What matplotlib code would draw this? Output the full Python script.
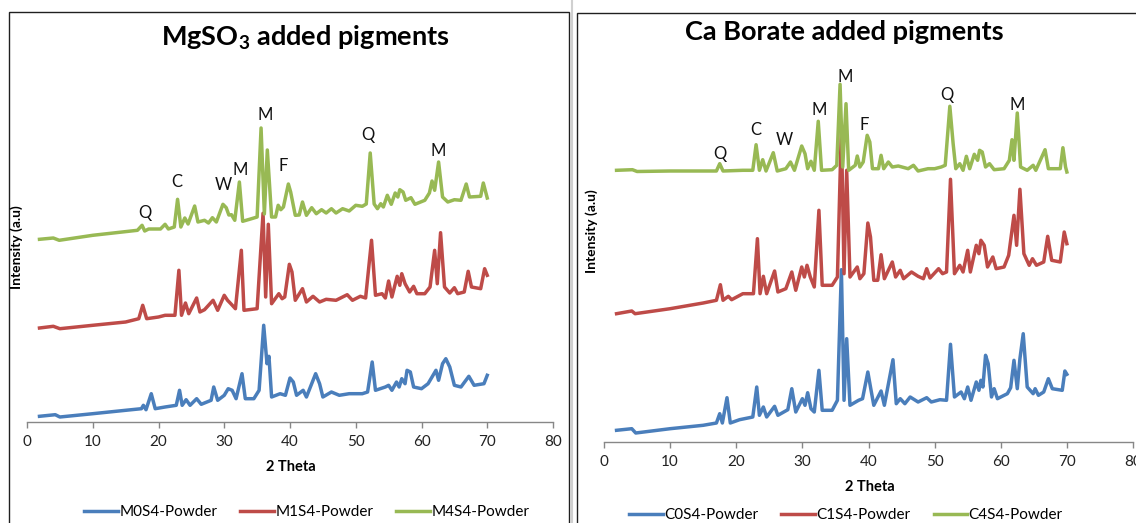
import matplotlib
matplotlib.use("Agg")
import matplotlib.pyplot as plt
from matplotlib.patches import Rectangle
from matplotlib.lines import Line2D

plt.rcParams['font.family'] = ['Lato', 'DejaVu Sans']
plt.rcParams['mathtext.fontset'] = 'custom'
plt.rcParams['mathtext.rm'] = 'Lato'
plt.rcParams['mathtext.bf'] = 'Lato:bold'

# ---- data (2 theta, intensity in a.u.) ----
m0_x = [1.9, 4.3, 5, 10, 15, 17.4, 17.7, 18.1, 18.9, 19.5, 21, 22.7, 23.2, 23.6, 24.2, 24.8, 25.8, 26.5, 28, 28.4,
        29, 30, 30.6, 31.2, 31.8, 32.7, 33.2, 34.5, 35.3, 36, 36.5, 36.8, 37.2, 38.5, 39.3, 40, 40.5, 41, 42, 42.5,
        43.9, 44.5, 45, 46.3, 47.5, 49, 51, 51.8, 52.5, 53, 54.5, 55, 55.5, 56.2, 56.6, 57, 57.5, 57.8, 58.3, 58.8,
        60, 61, 62.2, 62.6, 63.2, 63.7, 64.3, 65, 66, 67.2, 68, 69.5, 70]
m0_y = [5.7, 7.3, 5, 8.3, 11.7, 13.3, 16.7, 12.3, 28.3, 13.3, 15, 16.7, 31.7, 16.7, 22.3, 16.7, 23.3, 17.7, 21.7, 35,
        21.7, 26.7, 33.3, 31.7, 23.3, 48.3, 23.3, 23.3, 31.7, 96.7, 58.3, 65.7, 25, 28.3, 26.7, 44, 40, 26.7, 31.7, 25,
        48.3, 38.3, 25, 30, 26.7, 28.3, 28.3, 30, 60, 31.7, 35, 36.7, 31.7, 40, 35, 43.3, 38.3, 51.7, 50, 35,
        33.3, 38.3, 51.7, 41.7, 58.3, 63.3, 55, 36.7, 35, 45.7, 36.7, 38.3, 46.7]

m1_x = [1.9, 4, 5, 10, 15, 17, 17.6, 18.2, 20, 21, 22.5, 23.1, 23.5, 24.1, 24.6, 25.8, 26.3, 27, 28.3, 29,
        30, 30.5, 31, 31.7, 32.6, 33, 35, 35.9, 36.3, 36.7, 37.2, 38.3, 38.8, 39.2, 39.9, 40.3, 40.8, 41.9, 42.5, 43.5,
        44.5, 45.5, 47, 48.7, 49.5, 50.7, 51.5, 52.4, 53, 54, 54.5, 55, 55.5, 56.3, 56.7, 57, 57.5, 58.2, 58.8, 59.3,
        60.5, 61.3, 62, 62.4, 62.9, 63.5, 64.3, 65, 65.5, 66.5, 67.1, 67.6, 69, 69.6, 70]
m1_y = [94, 95.7, 93.3, 96.7, 100, 103.3, 116.7, 103.3, 105, 106.7, 106.7, 151.7, 106.7, 119, 108.3, 124, 110, 112.3, 121.7, 111.7,
        126.7, 121.7, 118.3, 113.3, 171.7, 111.7, 113.3, 208.7, 125, 197.7, 118.3, 128.3, 123.3, 125, 157.7, 150, 121.7, 133.3, 120, 125.7,
        120, 122.7, 121.7, 127.3, 121.7, 125.7, 124, 181.7, 126.7, 128.3, 124, 141, 125, 145.7, 136.7, 148.3, 138.3, 130, 135.7, 128.3,
        128.3, 135, 171.7, 138.3, 189.3, 135, 129, 134.3, 128.3, 130, 150.7, 135, 133.3, 153.3, 146.7]

m4_x = [1.9, 4, 4.9, 10, 16.8, 17.5, 17.9, 18.5, 20.3, 21, 21.5, 22.4, 22.9, 23.4, 24, 24.5, 25.5, 26, 27, 27.6,
        28.2, 28.8, 29.8, 30.3, 30.7, 31.1, 31.6, 32.3, 32.8, 34, 35, 35.6, 36.1, 36.55, 37.2, 37.8, 38.2, 38.6, 39, 39.75,
        40.1, 40.8, 41.4, 41.9, 42.5, 43.3, 44, 44.8, 45.5, 46.3, 47, 48, 49, 50, 51, 51.6, 52.2, 52.8, 53.3, 53.8,
        54.2, 54.8, 55.4, 56, 56.4, 56.7, 57.2, 57.6, 58.4, 59, 60.5, 61.2, 61.6, 62, 62.6, 63.2, 64, 65, 66, 66.8,
        67.3, 69, 69.4, 70]
m4_y = [182.7, 184, 181.7, 186.7, 191.7, 196.7, 191, 193, 193, 197.7, 193, 195, 222.7, 195, 204, 198, 216, 200, 201.7, 199,
        204.3, 200, 217.7, 214.3, 207, 207.3, 201.7, 240, 200.7, 203, 205, 294, 208, 272, 205, 205, 216.7, 212.3, 215, 238,
        230, 206.7, 207, 220, 206.7, 214.3, 208.3, 212.3, 209, 213.3, 209, 213.3, 211, 216.7, 215.7, 218, 269, 218, 213.3, 218.3,
        215, 226.7, 217.7, 229, 225, 232.3, 230, 221.7, 224.3, 217.7, 221.7, 229, 241, 231.7, 260, 225, 220, 222.3, 221.7, 238,
        225, 225.7, 239, 224]

c0_x = [1.9, 4.2, 4.8, 10, 15, 17, 17.5, 17.9, 18.6, 19.1, 20.5, 22.5, 23.1, 23.5, 24.1, 24.6, 25.8, 26.3, 27.8, 28.4,
        29, 30, 30.4, 30.8, 31.3, 31.8, 32.5, 33, 34.5, 35.3, 35.9, 36.3, 36.7, 37.2, 38.5, 39.1, 39.9, 40.3, 40.8, 41.9,
        42.4, 43.7, 44.2, 44.8, 45.5, 46.3, 47.5, 48.8, 49.5, 50.8, 51.8, 52.4, 53, 54, 54.5, 55, 55.5, 56.3, 56.7, 57,
        57.3, 57.7, 58.1, 58.6, 59, 59.5, 61, 61.5, 62, 62.5, 62.9, 63.4, 64, 64.9, 65.2, 65.7, 66.5, 67.2, 67.8, 69.3,
        69.7, 70]
c0_y = [11.7, 13.3, 9, 13.3, 16.7, 19, 28.3, 19, 44.3, 19, 22.3, 25, 55, 26.7, 35, 25, 35.7, 26.7, 32.3, 53.3,
        30, 43.3, 36.7, 49.3, 33.3, 30, 71.7, 31.7, 31.7, 41.7, 172.3, 41.7, 103.3, 36.7, 41.7, 43.3, 70, 55, 36.7, 51,
        36.7, 82.3, 38.3, 43.3, 38.3, 45, 40, 44.3, 40, 42.3, 41.7, 97.7, 45, 50, 43.3, 55, 41.7, 60, 51.7, 61.7,
        55, 86.7, 78.3, 45, 53.3, 43.3, 48.3, 54.3, 81.7, 53.3, 83.3, 108.3, 55, 48.3, 53.3, 46.7, 50, 63.3, 53.3, 51.7,
        71, 67.7]

c1_x = [1.9, 4.2, 4.7, 10, 15, 17, 17.6, 18, 18.8, 19.3, 21, 22.6, 23.2, 23.6, 24.1, 24.6, 25.8, 26.3, 27.5, 28.4,
        29, 29.9, 30.3, 30.7, 31.2, 31.8, 32.5, 33, 34.5, 35.3, 35.9, 36.3, 36.7, 37.2, 38.3, 38.7, 39.3, 39.9, 40.3, 40.8,
        41.4, 41.9, 42.4, 43.6, 44.1, 44.8, 45.3, 46.5, 47.5, 48.3, 48.8, 49.3, 50.6, 51.2, 51.8, 52.4, 53, 53.8, 54.3, 55,
        55.4, 56.3, 56.7, 57, 57.5, 58, 58.8, 59.3, 60.5, 61.2, 62, 62.4, 62.9, 63.5, 64.3, 64.8, 65.4, 66.5, 67.1, 67.7,
        69, 69.6, 70]
c1_y = [128.3, 131, 128.3, 133.3, 139, 141.7, 157.3, 141.7, 145.7, 142.3, 148.3, 148.3, 203.3, 148.3, 165.7, 148.3, 171, 150, 153.3, 170,
        151.7, 175, 165, 176.7, 165, 155, 231.7, 156.7, 156.7, 165, 313.7, 168.3, 271.7, 165, 175, 163.3, 168.3, 219, 205, 161.7,
        161.7, 187.3, 163.3, 180, 165, 171.7, 163.3, 170, 165.7, 163.3, 173.3, 164, 173.3, 168.3, 170, 262.7, 168.3, 176.7, 170, 191.7,
        170, 196.7, 188.3, 201.7, 196.7, 175, 185, 173.3, 175, 186.7, 226.7, 196.7, 252.7, 188.3, 176.7, 183.3, 176.7, 180, 205.7, 181.7,
        180, 210, 198.3]

c4_x = [1.9, 4.3, 5, 10, 15, 17, 17.5, 18, 21, 22.5, 23, 23.5, 24, 24.5, 25.6, 26.2, 27.5, 28.2, 28.8, 29.9,
        30.4, 30.8, 31.3, 31.8, 32.4, 32.9, 34.5, 35.2, 35.7, 36.1, 36.6, 37, 38, 38.3, 38.7, 39.2, 39.8, 40.2, 40.6, 41.5,
        41.9, 42.3, 43, 43.6, 44.5, 46, 46.8, 47.5, 49, 50, 51, 51.6, 52.3, 52.8, 53.2, 53.8, 54.3, 54.8, 55.3, 56,
        56.5, 56.8, 57.2, 57.7, 58.3, 59, 60.5, 61.3, 61.7, 62, 62.5, 63, 64, 64.9, 65.3, 66.7, 67.2, 69, 69.4, 69.8,
        70]
c4_y = [271.7, 272.3, 270.5, 271, 271, 271, 278.3, 271, 271.7, 271.7, 297.3, 271.7, 282.3, 271, 289.3, 271, 273.3, 280, 271.7, 296,
        288.3, 273.3, 280.7, 271.7, 320.7, 271.7, 272.3, 276.7, 357.7, 275, 338.3, 271.7, 276.7, 286, 275, 280, 306.7, 300, 273.3, 273.3,
        286.7, 273.3, 280, 275, 276, 273.3, 276.7, 271, 273.3, 273.3, 275, 276.7, 335.7, 298.3, 273.3, 278.3, 271.7, 285.7, 273.3, 287.7,
        281.7, 291.7, 290, 275, 278.3, 272.3, 273.3, 281.7, 302.3, 281.7, 329, 275, 271.7, 276.7, 271.7, 292.3, 273.3, 273.3, 294.3, 275,
        270]

peak_labels = ["Q", "C", "W", "M", "M", "F", "Q", "M"]
left_lab_x = [17.9, 22.8, 29.8, 32.4, 36.2, 39.0, 51.9, 62.5]
left_lab_y = [209, 240, 236.7, 251.7, 306.7, 256, 286.7, 271]
right_lab_x = [17.5, 22.9, 27.2, 32.5, 36.4, 39.3, 51.9, 62.5]
right_lab_y = [287.7, 312.3, 302.3, 332.3, 365, 317.3, 346.7, 336.7]

xticks = [0, 10, 20, 30, 40, 50, 60, 70, 80]

blue = '#4A7EBB'
red = '#BE4B48'
green = '#98B954'

W, H = 1136, 523
fig = plt.figure(figsize=(W / 100, H / 100), dpi=100)

# chart frames
fig.patches.append(Rectangle((9 / W, -0.1), 560 / W, 1.1 - 12 / H, transform=fig.transFigure,
                             fill=False, edgecolor='#202020', linewidth=1.0))
fig.patches.append(Rectangle((577 / W, -0.1), 600 / W, 1.1 - 13 / H, transform=fig.transFigure,
                             fill=False, edgecolor='#202020', linewidth=1.0))
fig.add_artist(Line2D([572 / W, 572 / W], [0, 1], transform=fig.transFigure, color='#d0d0d0', linewidth=1.5))


def panel(rect, ytop, series, names, lab_x, lab_y, title, title_xy, ylab_xy, xlab_xy, leg_xy):
    ax = fig.add_axes(rect)
    for (x, y), c, n in zip(series, [blue, red, green], names):
        ax.plot(x, y, color=c, linewidth=2.5, label=n, clip_on=False, solid_joinstyle='round')
    for t, x, y in zip(peak_labels, lab_x, lab_y):
        ax.text(x, y, t, ha='center', va='center', fontsize=12, color='#111111')
    ax.set_xlim(0, 80)
    ax.set_ylim(0, ytop)
    ax.set_xticks(xticks)
    ax.set_yticks([])
    for s in ['top', 'right', 'left']:
        ax.spines[s].set_visible(False)
    ax.spines['bottom'].set_color('#878787')
    ax.spines['bottom'].set_linewidth(1.0)
    ax.tick_params(axis='x', direction='out', length=4, width=1, color='#878787',
                   labelsize=11, labelcolor='#222222', pad=5)
    ax.patch.set_alpha(0)
    fig.text(title_xy[0] / W, 1 - title_xy[1] / H, title, ha='center', va='center',
             fontsize=19.5, fontweight='bold')
    fig.text(ylab_xy[0] / W, 1 - ylab_xy[1] / H, 'Intensity (a.u)', rotation=90,
             ha='center', va='center', fontsize=10, fontweight='bold')
    fig.text(xlab_xy[0] / W, 1 - xlab_xy[1] / H, '2 Theta', ha='center', va='center',
             fontsize=10.5, fontweight='bold')
    fig.legend(*ax.get_legend_handles_labels(), loc='center', ncol=3, frameon=False,
               bbox_to_anchor=(leg_xy[0] / W, 1 - leg_xy[1] / H), fontsize=11,
               handlelength=2.2, handletextpad=0.1, columnspacing=1.5, borderpad=0)
    return ax


panel([27 / W, (H - 422) / H, (553 - 27) / W, (422 - 60) / H], 362,
      [(m0_x, m0_y), (m1_x, m1_y), (m4_x, m4_y)],
      ['M0S4-Powder', 'M1S4-Powder', 'M4S4-Powder'],
      left_lab_x, left_lab_y, r'MgSO$_\mathbf{3}$ added pigments',
      (305, 38), (17, 247), (291, 467), (307, 512))

panel([604 / W, (H - 442) / H, (1133 - 604) / W, (442 - 60) / H], 382,
      [(c0_x, c0_y), (c1_x, c1_y), (c4_x, c4_y)],
      ['C0S4-Powder', 'C1S4-Powder', 'C4S4-Powder'],
      right_lab_x, right_lab_y, 'Ca Borate added pigments',
      (844, 32), (592, 231), (870, 487), (846, 515))

fig.savefig('out.png', dpi=100)
